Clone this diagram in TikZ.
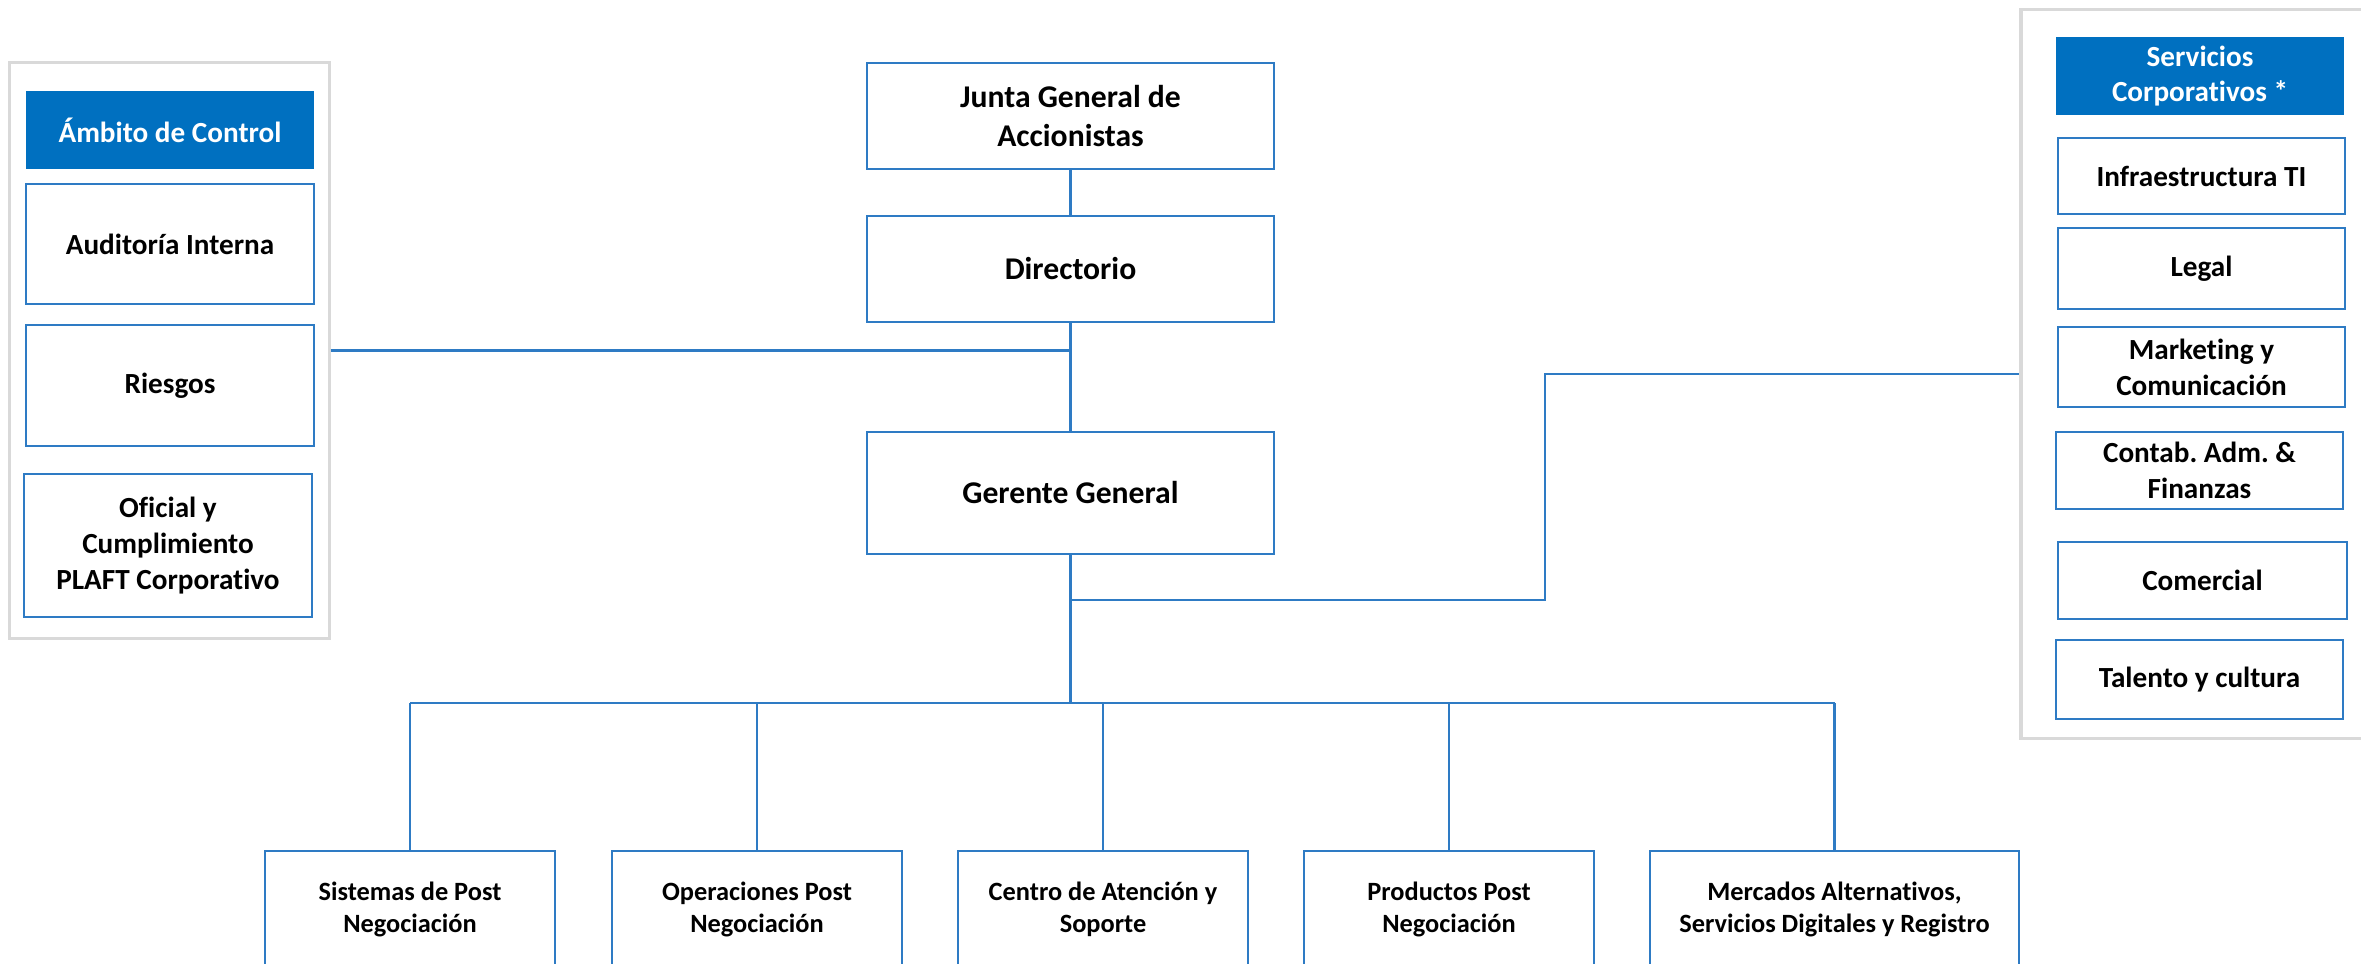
\documentclass[tikz,border=0pt]{standalone}
\usepackage{fontspec}
\setmainfont{Carlito}[Ligatures={NoCommon,NoContextual}]
\frenchspacing
\definecolor{lineblue}{HTML}{2E7BC4}
\definecolor{headblue}{HTML}{0070C0}
\definecolor{panelgrey}{HTML}{D9D9D9}
\tikzset{
  orgbox/.style={draw=lineblue, line width=0.6pt, fill=white, align=center, inner sep=2pt},
  midtext/.style={font=\bfseries\fontsize{9}{11}\selectfont},
  sidetext/.style={font=\bfseries\fontsize{8.3}{10.2}\selectfont},
  lowtext/.style={font=\bfseries\fontsize{7.5}{9.1}\selectfont},
  headbox/.style={fill=headblue, text=white, align=center, inner sep=2pt},
  panelbox/.style={draw=panelgrey, line width=0.9pt, fill=white, inner sep=0pt},
  link/.style={draw=lineblue, line width=0.6pt}
}
\begin{document}
\begin{tikzpicture}[x=0.01cm,y=-0.01cm]
\useasboundingbox (0,0) rectangle (2361,964);
\clip (0,0) rectangle (2361,964);
\fill[white] (0,0) rectangle (2361,964);

% panels
\node[panelbox, minimum width=3.19cm, minimum height=5.75cm] (ctrlpanel) at (169.5,350.5) {};
\node[panelbox, minimum width=3.59cm, minimum height=7.28cm] (svcpanel) at (2200.5,374) {};

% left panel
\node[headbox, sidetext, minimum width=2.88cm, minimum height=0.78cm] (ctrlhead) at (170,130) {Ámbito de Control};
\node[orgbox, sidetext, minimum width=2.88cm, minimum height=1.20cm] (audit) at (170,244) {Auditoría Interna};
\node[orgbox, sidetext, minimum width=2.88cm, minimum height=1.21cm] (riesgos) at (170,385.5) {Riesgos};
\node[orgbox, sidetext, minimum width=2.88cm, minimum height=1.43cm] (oficial) at (168,545.5) {Oficial y\\Cumplimiento\\PLAFT Corporativo};

% right panel
\node[headbox, sidetext, minimum width=2.88cm, minimum height=0.78cm] (svchead) at (2200,76) {Servicios\\Corporativos *};
\node[orgbox, sidetext, minimum width=2.87cm, minimum height=0.76cm] (infra) at (2201.5,176) {Infraestructura TI};
\node[orgbox, sidetext, minimum width=2.87cm, minimum height=0.81cm] (legal) at (2201.5,268.5) {Legal};
\node[orgbox, sidetext, minimum width=2.87cm, minimum height=0.80cm] (mkt) at (2201.5,367) {Marketing y\\Comunicación};
\node[orgbox, sidetext, minimum width=2.87cm, minimum height=0.77cm] (contab) at (2199.5,470.5) {Contab. Adm. \&\\Finanzas};
\node[orgbox, sidetext, minimum width=2.89cm, minimum height=0.77cm] (comercial) at (2202.5,580.5) {Comercial};
\node[orgbox, sidetext, minimum width=2.87cm, minimum height=0.79cm] (talento) at (2199.5,679.5) {Talento y cultura};

% centre column
\node[orgbox, midtext, minimum width=4.07cm, minimum height=1.06cm] (junta) at (1070.5,116) {Junta General de\\Accionistas};
\node[orgbox, midtext, minimum width=4.07cm, minimum height=1.06cm] (dir) at (1070.5,269) {Directorio};
\node[orgbox, midtext, minimum width=4.07cm, minimum height=1.22cm] (ger) at (1070.5,493) {Gerente General};

% bottom row
\node[orgbox, lowtext, minimum width=2.90cm, minimum height=1.16cm] (b1) at (410,909) {Sistemas de Post\\Negociación};
\node[orgbox, lowtext, minimum width=2.90cm, minimum height=1.16cm] (b2) at (757,909) {Operaciones Post\\Negociación};
\node[orgbox, lowtext, minimum width=2.90cm, minimum height=1.16cm] (b3) at (1103,909) {Centro de Atención y\\Soporte};
\node[orgbox, lowtext, minimum width=2.90cm, minimum height=1.16cm] (b4) at (1449,909) {Productos Post\\Negociación};
\node[orgbox, lowtext, minimum width=3.69cm, minimum height=1.16cm] (b5) at (1834.5,909) {Mercados Alternativos,\\Servicios Digitales y Registro};

% connectors
\coordinate (bus) at (1070.5,703);
\coordinate (elbow) at (1545,600);
\draw[link] (junta) -- (dir);
\draw[link] (dir) -- (ger);
\draw[link] (ctrlpanel.east) -- (ctrlpanel.east -| dir.south);
\draw[link] (ger.south |- elbow) -- (elbow) |- (svcpanel.west);
\draw[link] (ger.south) -- (bus);
\draw[link] (b1.north |- bus) -- (b5.north |- bus);
\foreach \b in {b1,b2,b3,b4,b5} {
  \draw[link] (\b.north |- bus) -- (\b.north);
}
\end{tikzpicture}
\end{document}
